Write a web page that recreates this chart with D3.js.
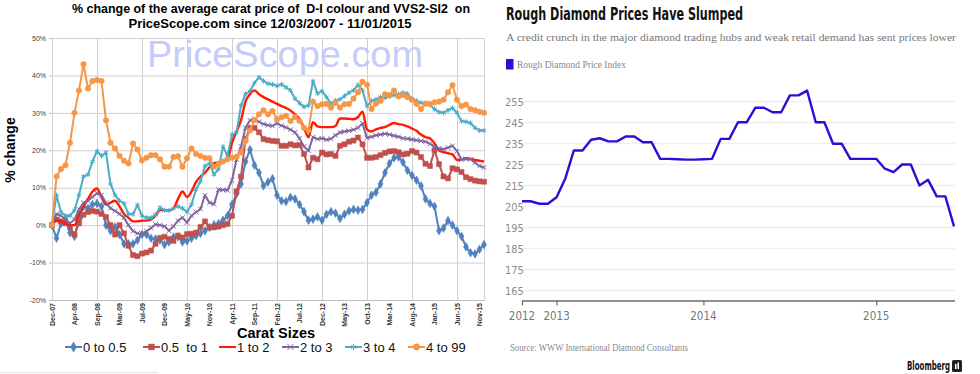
<!DOCTYPE html>
<html>
<head>
<meta charset="utf-8">
<script src="https://cdn.jsdelivr.net/npm/d3@7"></script>
<style>
  body { margin: 0; background: #fff; }
  svg text { font-family: "Liberation Sans", Arial, sans-serif; }
  .grid line { stroke: #cfcfcf; }
  .grid path { stroke: #bdbdbd; }
</style>
</head>
<body>
<svg id="chart" width="980" height="374"></svg>
<script>
// ---------- left chart: PriceScope % change by carat size ----------
var xLabels = ["Dec-07","Apr-08","Sep-08","Mar-09","Jul-09","Dec-09","May-10","Nov-10","Apr-11","Sep-11",
               "Feb-12","Jul-12","Dec-12","May-13","Oct-13","Mar-14","Aug-14","Jan-15","Jun-15","Nov-15"];
var pctTicks = [-20, -10, 0, 10, 20, 30, 40, 50];

var s0to05 = [0,-3.5,0.5,1.5,-2,-3,2,5,4.5,5.5, 5.8,5,0,-1.5,-0.5,-2.5,-5,-5,-5,-4,
  -2.5,-2.5,-3.5,-3.7,-4,-5.2,-4.5,-3.2,-3.1,-4.5, -4.2,-3.5,-2.8,-2.2,-1.5,-0.6,0.1,0.4,1.3,2.5,
  5.5,8.3,11,17,20.2,16,14,10.5,11.5,12.4, 8,6.5,6.3,7.4,7,5.5,3.6,1.3,1.6,2.2,
  1.3,2.9,3.6,3.2,1.8,2.9,3.8,4.2,4,4.2, 6,8,8.8,11,14,16.5,18,18.2,16.8,14.6,
  13.3,12,10.5,7,5.8,5,-1.5,-0.8,1.2,0, -1.5,-3,-5.8,-7.4,-7.7,-6.5,-5.2];
var s05to1 = [0,1.5,1,0.5,-0.5,-2.5,0.5,2.8,3.5,3.8, 3.6,3,2.2,0,-2.5,0,-2.2,-5.5,-8,-8.3,
  -7.6,-7.3,-6.8,-5,-3.4,-3.1,-3.7,-4.2,-2.8,-3.3, -2.4,-2.3,-2,-0.5,1,-0.6,-0.6,-0.4,0,0.3,
  2.5,9,13,23,26,26,24.8,23,22.7,22.5, 22.4,21.2,21.2,21.6,21.3,21.4,19,15.4,18,17.6,
  19.4,18.9,19,18.5,21.2,21.6,22.3,22.6,23.4,21.6, 18,18,18.2,18.7,19.3,19.7,19.8,19.5,18.9,19.1,
  19.8,19.4,18.2,16.4,15.8,20,16.3,13,12.5,15.2, 14.9,14.2,12.8,12.3,11.9,11.7,11.6];
var s1to2 = [0,1.2,1,0.5,0,0,3,5,7,9, 9.8,7.5,5.5,6,6.5,5,3,2,1,1,
  1.2,1.2,1.5,2.5,4,4,4,4.5,7,9, 7.5,9,11.5,13,14,15.5,16.5,16.8,17,17.5,
  22,25,28,33,35,36,35,34.2,33.6,33, 32.4,31.8,31.3,30.6,29.6,28.4,26,23.5,27.5,26.4,
  26.2,26.2,26.2,26.5,28.5,28.5,28.4,28.3,28.9,30.3, 25.6,25,25.6,26,26.2,26.8,27.3,27,26.8,26.4,
  25.8,25.2,24.2,23.5,23.2,21.8,20,19.5,19.2,18.9, 17.4,17.6,17.9,17.7,17.4,17.2,17];
var s2to3 = [0,3,2.5,1.5,0.5,1.5,4.2,6,6.5,7.5, 8.5,8,6,4.5,3.8,3,2,0,-1.6,-2.2,
  -2.3,-1.6,-0.8,0.2,0,-0.3,-1.5,-0.3,1.2,2, 0.7,2.5,3.5,4.3,8,6,5.6,9.5,9.4,9.3,
  12,17.5,21,26,28,28.4,27.6,27,26.7,26.5, 27.2,26.6,26.1,25.5,24.8,23.2,21,19.9,23.5,23,
  23.2,22.8,23.1,24,24.8,25,25.2,25.5,26,27.2, 23.3,23.6,24,24.2,24.4,24.2,23.9,23.6,23.2,23.1,
  22.9,22.7,22.5,22.3,21.7,21,20.5,20.3,20.7,21.2, 19.8,17.5,17.7,17.6,16.7,15.8,15.4];
var s3to4 = [0,8,3.5,2.5,2.5,4,8,13,13.5,17, 19.8,18.5,19.4,11,8,6.5,5.8,3,2.9,5.4,
  2.5,2,2,2.8,4.7,4,3.9,4.5,5,4.5, 3.5,5.5,9.5,11.7,15.8,16.5,13.5,15,21,18.5,
  24.2,24.7,32,35,35.8,38,39.5,38.5,37.8,37.6, 37.2,37.6,36.8,36,33.8,32.6,31.6,32,38.5,35.2,
  35.8,34.2,32.5,33.3,33.6,34.5,35.4,36,37.5,36, 31.8,33.2,33.6,34.2,34,34.4,34.7,35,35.4,35.1,
  33.7,33.2,32.7,32.3,32.1,31,30.2,30,30.7,31.3, 30,27.8,27.6,27.3,26,25.3,25.3];
var s4to99 = [0,13,15,16,22,30,36,43,36.5,38.5, 38.8,38.5,28,22,20.5,18.5,17.2,16.5,21.8,20.2,
  17.3,18,18.7,18.7,17.6,15.6,15.6,18.2,18.4,15.6, 17.9,20.5,19,18.5,18,17.9,15.6,16.3,17,17.6,
  18,18.3,19.4,22.5,25.3,28,29.6,30.7,29.6,30.5, 28.3,28.8,29.2,27.8,28.9,27.8,26,25.3,33,31.8,
  32.3,32.4,31.4,32.7,31.4,32.3,32.4,33.8,35.5,38.3, 37.5,31,32.5,33.2,35,34.8,36,34.4,34.8,34.2,
  33.5,32.4,31,32.5,32.4,32.8,33,33.5,35.5,37.4, 33.5,31.8,32.2,31,30.7,30.3,30];

var seriesNames = ["0 to 0.5", "0.5  to 1", "1 to 2", "2 to 3", "3 to 4", "4 to 99"];

// ---------- right chart: Bloomberg rough diamond price index ----------
var roughIndex = [207.5,207.5,206.3,206.3,209.4,218.2,231.7,231.7,236.8,237.5,
  236,236,238.3,238.3,235.6,235.6,227.7,227.7,227.5,227.3,
  227.3,227.5,227.7,237.2,237.2,245.1,245.1,252,252,249.9,
  249.9,257.9,257.9,260.2,245.1,245.1,234.9,234.9,227.7,227.7,
  227.7,227.7,223,221.4,225,225,215,217.7,209.8,209.8,195.5];
var roughTicks = [165, 175, 185, 195, 205, 215, 225, 235, 245, 255];
var yearLabels = ["2012", "2013", "2014", "2015"];
var yearAt = [0, 4, 21, 41];   // point index where each year label sits

var svg = d3.select("#chart");
svg.append("rect").attr("width", 980).attr("height", 374).attr("fill", "#fff");

/* ===== LEFT ===== */
var L = {left: 52, right: 484, top: 38, bottom: 300};
var x = d3.scaleLinear().domain([0, s0to05.length - 1]).range([L.left, L.right]);
var y = d3.scaleLinear().domain([-20, 50]).range([L.bottom, L.top]);
var left = svg.append("g");

left.append("text")
    .attr("x", 271).attr("y", 13).attr("text-anchor", "middle")
    .attr("textLength", 398).attr("lengthAdjust", "spacingAndGlyphs")
    .style("font-size", "12px").style("font-weight", "bold").style("white-space", "pre")
    .text("% change of the average carat price of  D-I colour and VVS2-SI2  on");
left.append("text")
    .attr("x", 270).attr("y", 27.5).attr("text-anchor", "middle")
    .attr("textLength", 283).attr("lengthAdjust", "spacingAndGlyphs")
    .style("font-size", "12.5px").style("font-weight", "bold")
    .text("PriceScope.com since 12/03/2007 - 11/01/2015");

// horizontal grid
left.append("g")
    .attr("class", "grid")
    .attr("transform", "translate(" + L.left + ",0)")
    .call(d3.axisLeft(y).tickValues(pctTicks).tickSize(-(L.right - L.left)).tickFormat(""));
// vertical grid
left.append("g")
    .attr("class", "grid")
    .attr("transform", "translate(0," + L.bottom + ")")
    .call(d3.axisBottom(x).tickValues(d3.range(0, 91, 10).concat([s0to05.length - 1]))
        .tickSize(-(L.bottom - L.top)).tickFormat(""));

// watermark
left.append("text")
    .attr("x", 285).attr("y", 67).attr("text-anchor", "middle")
    .attr("textLength", 276).attr("lengthAdjust", "spacingAndGlyphs")
    .style("font-size", "36px").attr("fill", "#c4ccf7")
    .text("PriceScope.com");

// y labels
var yAx = left.append("g")
    .attr("transform", "translate(" + L.left + ",0)")
    .call(d3.axisLeft(y).tickValues(pctTicks).tickSize(3).tickFormat(function(d) { return d + "%"; }));
yAx.select(".domain").remove();
yAx.selectAll("line").attr("stroke", "#bdbdbd");
yAx.selectAll("text").style("font-size", "7px").attr("fill", "#404040");

// x labels
var xAx = left.append("g")
    .attr("transform", "translate(0," + L.bottom + ")")
    .call(d3.axisBottom(x).tickValues(d3.range(0, 96, 5)).tickSize(0)
        .tickFormat(function(d, i) { return xLabels[i]; }));
xAx.select(".domain").remove();
xAx.selectAll("text")
    .attr("transform", "rotate(-90)")
    .attr("x", -3).attr("y", 0).attr("dy", "0.35em")
    .style("text-anchor", "end")
    .style("font-size", "7px").style("font-weight", "bold").attr("fill", "#333");

left.append("text")
    .attr("transform", "translate(15,150) rotate(-90)")
    .attr("text-anchor", "middle")
    .style("font-size", "14px").style("font-weight", "bold")
    .text("% change");

left.append("text")
    .attr("x", 276).attr("y", 338).attr("text-anchor", "middle")
    .style("font-size", "14.5px").style("font-weight", "bold")
    .text("Carat Sizes");

var series = [
  {values: s0to05, color: "#4f81bd", symbol: d3.symbolDiamond, size: 22, fill: true},
  {values: s05to1, color: "#c0504d", symbol: d3.symbolSquare, size: 26, fill: true},
  {values: s1to2,  color: "#ff1a00", symbol: null, curve: d3.curveMonotoneX, width: 2.4},
  {values: s2to3,  color: "#8064a2", symbol: d3.symbolX || d3.symbolCross, size: 16, fill: false},
  {values: s3to4,  color: "#4bacc6", symbol: d3.symbolAsterisk || d3.symbolCross, size: 18, fill: false},
  {values: s4to99, color: "#f79646", symbol: d3.symbolCircle, size: 24, fill: true}
];

series.forEach(function(s) {
  var line = d3.line()
      .x(function(d, i) { return x(i); })
      .y(function(d) { return y(d); })
      .curve(s.curve || d3.curveLinear);
  left.append("path")
      .datum(s.values)
      .attr("fill", "none")
      .attr("stroke", s.color)
      .attr("stroke-width", s.width || 2)
      .attr("stroke-linejoin", "round")
      .attr("d", line);
  if (s.symbol) {
    left.selectAll(null)
        .data(s.values)
        .enter().append("path")
        .attr("transform", function(d, i) { return "translate(" + x(i) + "," + y(d) + ")"; })
        .attr("d", d3.symbol().type(s.symbol).size(s.size))
        .attr("fill", s.fill ? s.color : "none")
        .attr("stroke", s.color)
        .attr("stroke-width", s.fill ? 0.5 : 1);
  }
});

// legend
var legendX = [65, 143, 219, 282, 345, 408], ly = 347;
series.forEach(function(s, i) {
  var g = left.append("g").attr("transform", "translate(" + legendX[i] + "," + ly + ")");
  g.append("line").attr("x1", 0).attr("x2", 17).attr("stroke", s.color).attr("stroke-width", 2);
  if (s.symbol) {
    g.append("path")
        .attr("transform", "translate(8.5,0)")
        .attr("d", d3.symbol().type(s.symbol).size(s.size + 8))
        .attr("fill", s.fill ? s.color : "none")
        .attr("stroke", s.color)
        .attr("stroke-width", s.fill ? 0.5 : 1);
  }
  g.append("text")
      .attr("x", 18).attr("y", 4.5)
      .style("font-size", "13px").style("white-space", "pre")
      .attr("fill", "#111")
      .text(seriesNames[i]);
});

svg.append("line").attr("x1", 0).attr("x2", 158).attr("y1", 372.5).attr("y2", 372.5)
    .attr("stroke", "#e3e3e3");

/* ===== RIGHT ===== */
var R = {left: 522, right: 954, top: 91, bottom: 301};
var rx = d3.scaleLinear().domain([0, roughIndex.length - 1]).range([R.left, R.right]);
var ry = d3.scaleLinear().domain([160, 260]).range([R.bottom, R.top]);
var right = svg.append("g");
var narrow = '"Liberation Sans Narrow", "DejaVu Sans Condensed", "Liberation Sans", sans-serif';
var serif = '"Liberation Serif", "DejaVu Serif", serif';

right.append("text")
    .attr("x", 506).attr("y", 20)
    .attr("textLength", 237).attr("lengthAdjust", "spacingAndGlyphs")
    .style("font-family", narrow).style("font-size", "18px").style("font-weight", "bold")
    .attr("fill", "#111")
    .text("Rough Diamond Prices Have Slumped");
right.append("text")
    .attr("x", 506).attr("y", 41)
    .attr("textLength", 450).attr("lengthAdjust", "spacingAndGlyphs")
    .style("font-family", serif).style("font-size", "11px")
    .attr("fill", "#777")
    .text("A credit crunch in the major diamond trading hubs and weak retail demand has sent prices lower");

right.append("rect").attr("x", 506).attr("y", 59).attr("width", 7.5).attr("height", 10.5).attr("fill", "#2b0fd8");
right.append("text")
    .attr("x", 517).attr("y", 68)
    .attr("textLength", 109).attr("lengthAdjust", "spacingAndGlyphs")
    .style("font-family", serif).style("font-size", "11px")
    .attr("fill", "#8a8a8a")
    .text("Rough Diamond Price Index");

// gridlines + y labels
right.selectAll(".rgrid")
    .data(roughTicks)
    .enter().append("line")
    .attr("class", "rgrid")
    .attr("x1", R.left + 1).attr("x2", R.right + 1)
    .attr("y1", function(d) { return ry(d); }).attr("y2", function(d) { return ry(d); })
    .attr("stroke", "#efefef").attr("stroke-width", 1.3);
right.selectAll(".rlab")
    .data(roughTicks)
    .enter().append("text")
    .attr("class", "rlab")
    .attr("x", 505).attr("y", function(d) { return ry(d) + 4; })
    .style("font-family", narrow).style("font-size", "11px")
    .attr("fill", "#8c8c8c")
    .text(function(d) { return d; });

// x axis
right.append("line")
    .attr("x1", R.left).attr("x2", R.right + 1).attr("y1", R.bottom).attr("y2", R.bottom)
    .attr("stroke", "#6a6a6a").attr("stroke-width", 1.5);
yearAt.forEach(function(at, i) {
  right.append("line")
      .attr("x1", rx(at) + 0.5).attr("x2", rx(at) + 0.5)
      .attr("y1", R.bottom).attr("y2", R.bottom + 4.5)
      .attr("stroke", "#6a6a6a").attr("stroke-width", 1.2);
  right.append("text")
      .attr("x", rx(at)).attr("y", 319.5).attr("text-anchor", "middle")
      .style("font-family", narrow).style("font-size", "11.5px")
      .attr("fill", "#777")
      .text(yearLabels[i]);
});

right.append("path")
    .datum(roughIndex)
    .attr("fill", "none")
    .attr("stroke", "#2b0fd8")
    .attr("stroke-width", 2.4)
    .attr("stroke-linejoin", "round")
    .attr("d", d3.line()
        .x(function(d, i) { return rx(i); })
        .y(function(d) { return ry(d); }));

right.append("text")
    .attr("x", 510).attr("y", 351)
    .attr("textLength", 178).attr("lengthAdjust", "spacingAndGlyphs")
    .style("font-family", serif).style("font-size", "10.5px")
    .attr("fill", "#8a8a8a")
    .text("Source: WWW International Diamond Consultants");

right.append("text")
    .attr("x", 907).attr("y", 370)
    .attr("textLength", 43).attr("lengthAdjust", "spacingAndGlyphs")
    .style("font-family", narrow).style("font-size", "11.5px").style("font-weight", "bold")
    .attr("fill", "#111")
    .text("Bloomberg");
var logo = right.append("g").attr("transform", "translate(952,360)");
logo.append("rect").attr("width", 10).attr("height", 12).attr("rx", 1.5).attr("fill", "#222");
logo.append("rect").attr("x", 3).attr("y", 4).attr("width", 1.5).attr("height", 5).attr("fill", "#fff");
logo.append("rect").attr("x", 5.5).attr("y", 2.5).attr("width", 1.5).attr("height", 6.5).attr("fill", "#fff");
</script>
</body>
</html>
